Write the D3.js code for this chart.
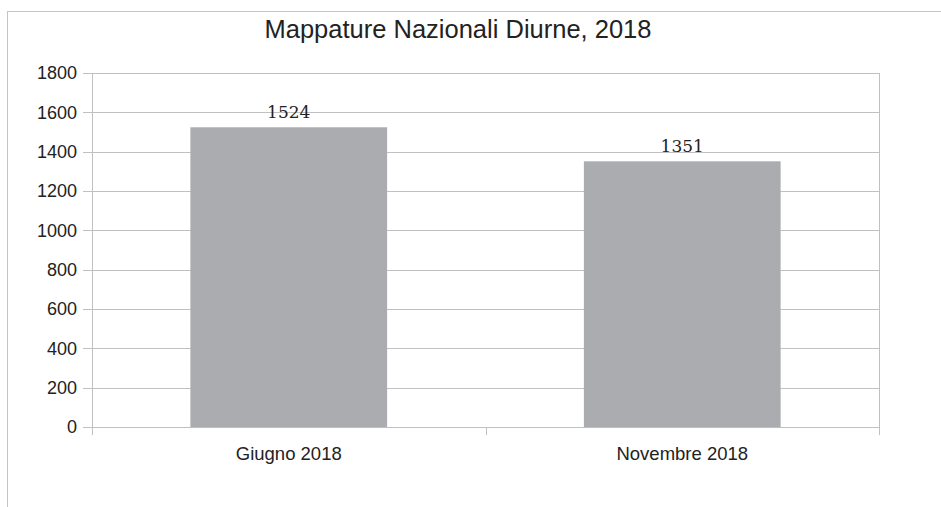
<!DOCTYPE html>
<html>
<head>
<meta charset="utf-8">
<script src="https://cdn.jsdelivr.net/npm/d3@7/dist/d3.min.js"></script>
<style>
html,body{margin:0;padding:0;background:#fff;}
svg{display:block;}
</style>
</head>
<body>
<svg id="chart" width="941" height="507"></svg>
<script>
const title = "Mappature Nazionali Diurne, 2018";
const categories = ["Giugno 2018", "Novembre 2018"];
const values = [1524, 1351];
const yTicks = [0, 200, 400, 600, 800, 1000, 1200, 1400, 1600, 1800];

const svg = d3.select("#chart");
const W = 941, H = 507;
const m = {left: 92, right: W - 879, top: 73, bottom: H - 427};
const iw = W - m.left - m.right, ih = H - m.top - m.bottom;

// outer frame (extends beyond picture on right/bottom)
svg.append("rect").attr("x", 7.5).attr("y", 11.5).attr("width", 1000).attr("height", 1000)
  .attr("fill", "none").attr("stroke", "#c4c4c4").attr("stroke-width", 1);

const g = svg.append("g").attr("transform", `translate(${m.left},${m.top})`);

const x = d3.scaleBand().domain(categories).range([0, iw]).paddingInner(0.5).paddingOuter(0.25);
const y = d3.scaleLinear().domain([0, 1800]).range([ih, 0]);

// gridlines
g.append("g").selectAll("line").data(yTicks).join("line")
  .attr("x1", -9).attr("x2", iw)
  .attr("y1", d => Math.round(y(d)) + 0.5).attr("y2", d => Math.round(y(d)) + 0.5)
  .attr("stroke", "#c0c0c0").attr("stroke-width", 1);

// right border of plot
g.append("line").attr("x1", iw + 0.5).attr("x2", iw + 0.5).attr("y1", 0).attr("y2", ih + 8)
  .attr("stroke", "#c0c0c0");

// y axis
const yAxis = d3.axisLeft(y).tickValues(yTicks).tickFormat(d3.format("d")).tickSize(0).tickPadding(15);
const ya = g.append("g").call(yAxis);
ya.select(".domain").attr("stroke", "#c0c0c0").attr("d", `M0.5,0V${ih + 8}`);
ya.selectAll("text").attr("font-family", "Liberation Sans, Arial, sans-serif")
  .attr("font-size", 18).attr("fill", "#222");

// x axis
const xAxis = d3.axisBottom(x).tickSize(0).tickPadding(20);
const xa = g.append("g").attr("transform", `translate(0,${ih})`).call(xAxis);
xa.select(".domain").remove();
xa.selectAll("text").attr("font-family", "Liberation Sans, Arial, sans-serif")
  .attr("font-size", 18.5).attr("fill", "#222");
// category boundary ticks
const bounds = [0, iw / 2];
g.append("g").selectAll("line").data(bounds).join("line")
  .attr("x1", d => Math.round(d) + 0.5).attr("x2", d => Math.round(d) + 0.5)
  .attr("y1", ih).attr("y2", ih + 8).attr("stroke", "#c0c0c0");

// bars
g.append("g").selectAll("rect").data(values).join("rect")
  .attr("x", (d, i) => x(categories[i]))
  .attr("width", x.bandwidth())
  .attr("y", d => y(d))
  .attr("height", d => ih - y(d))
  .attr("fill", "#abacaf");

// value labels
g.append("g").selectAll("text").data(values).join("text")
  .attr("x", (d, i) => x(categories[i]) + x.bandwidth() / 2)
  .attr("y", d => y(d) - 9)
  .attr("text-anchor", "middle")
  .attr("font-family", "DejaVu Serif, serif")
  .attr("font-size", 17).attr("fill", "#222")
  .text(d => d);

// title
svg.append("text").attr("x", 458).attr("y", 38).attr("text-anchor", "middle")
  .attr("font-family", "Liberation Sans, Arial, sans-serif")
  .attr("font-size", 25.5).attr("fill", "#222").text(title);
</script>
</body>
</html>
